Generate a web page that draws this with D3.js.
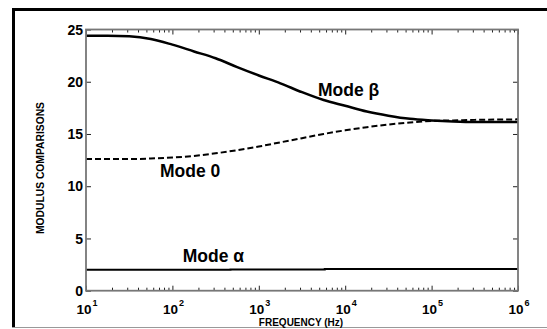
<!DOCTYPE html>
<html>
<head>
<meta charset="utf-8">
<script src="https://cdn.jsdelivr.net/npm/d3@7"></script>
<style>
  html, body { margin: 0; padding: 0; background: #fff; }
  svg { display: block; font-family: "Liberation Sans", Arial, sans-serif; }
</style>
</head>
<body>
<svg id="chart" width="547" height="329"></svg>
<script>
// Frequency sweep (Hz) and modulus values for the three modes
const betaFreq = [1e1, 10**1.25, 10**1.5, 10**1.75, 1e2, 10**2.25, 10**2.5, 10**2.75, 1e3, 10**3.25, 10**3.5, 10**3.75, 1e4, 10**4.25, 10**4.5, 10**4.75, 1e5, 10**5.25, 10**5.5, 1e6];
const betaValues = [24.4, 24.4, 24.35, 24.1, 23.55, 22.9, 22.25, 21.4, 20.6, 19.85, 19.0, 18.25, 17.7, 17.15, 16.75, 16.45, 16.3, 16.2, 16.15, 16.15];

const zeroFreq = [1e1, 10**1.5, 10**1.75, 1e2, 10**2.25, 10**2.5, 10**2.75, 1e3, 10**3.25, 10**3.5, 10**3.75, 1e4, 10**4.25, 10**4.5, 10**4.75, 1e5, 10**5.25, 10**5.5, 1e6];
const zeroValues = [12.6, 12.6, 12.65, 12.75, 12.9, 13.15, 13.45, 13.8, 14.2, 14.6, 15.0, 15.35, 15.65, 15.9, 16.1, 16.25, 16.3, 16.35, 16.4];

const alphaFreq = [1e1, 470, 470, 5800, 5800, 1e6];
const alphaValues = [2.0, 2.0, 2.04, 2.04, 2.08, 2.08];

// Axis ticks
const xTickExponents = [1, 2, 3, 4, 5, 6];
const yTicks = [0, 5, 10, 15, 20, 25];

// Curve labels: [text, frequency, value]
const modeLabels = [
  ["Mode β", 10**3.685, 18.6],
  ["Mode 0", 10**1.856, 10.9],
  ["Mode α", 10**2.12, 2.7]
];

const svg = d3.select("#chart");
const W = 547, H = 329;
const plot = { left: 86, right: 518, top: 29.5, bottom: 290.7 };

// Outer frame
svg.append("line").attr("x1", 12).attr("x2", W).attr("y1", 9.5).attr("y2", 9.5)
  .attr("stroke", "#000").attr("stroke-width", 3);
svg.append("line").attr("x1", 13.5).attr("x2", 13.5).attr("y1", 8).attr("y2", 328)
  .attr("stroke", "#000").attr("stroke-width", 3);
svg.append("line").attr("x1", 12).attr("x2", W).attr("y1", 327.5).attr("y2", 327.5)
  .attr("stroke", "#999").attr("stroke-width", 1);

const x = d3.scaleLog().domain([1e1, 1e6]).range([plot.left, plot.right]);
const y = d3.scaleLinear().domain([0, 25]).range([plot.bottom, plot.top]);

// Minor and major ticks along the log axis
const minorTicks = [];
for (let e = 1; e < 6; e++) for (let m = 2; m <= 9; m++) minorTicks.push(m * 10 ** e);
const majorTicks = xTickExponents.map(e => 10 ** e);

const g = svg.append("g");

const axisBottom = d3.axisBottom(x).tickValues(majorTicks).tickSize(-5).tickFormat("");
const axisTop = d3.axisTop(x).tickValues(majorTicks).tickSize(-5).tickFormat("");
const minorBottom = d3.axisBottom(x).tickValues(minorTicks).tickSize(-3).tickFormat("");
const minorTop = d3.axisTop(x).tickValues(minorTicks).tickSize(-3).tickFormat("");
const axisLeft = d3.axisLeft(y).tickValues(yTicks).tickSize(-5).tickFormat("");
const axisRight = d3.axisRight(y).tickValues(yTicks).tickSize(-5).tickFormat("");

function styleAxis(sel) {
  sel.select(".domain").remove();
  sel.selectAll(".tick line").attr("stroke", "#222").attr("stroke-width", 1);
}
g.append("g").attr("transform", `translate(0,${plot.bottom})`).call(axisBottom).call(styleAxis);
g.append("g").attr("transform", `translate(0,${plot.bottom})`).call(minorBottom).call(styleAxis);
g.append("g").attr("transform", `translate(0,${plot.top})`).call(axisTop).call(styleAxis);
g.append("g").attr("transform", `translate(0,${plot.top})`).call(minorTop).call(styleAxis);
g.append("g").attr("transform", `translate(${plot.left},0)`).call(axisLeft).call(styleAxis);
g.append("g").attr("transform", `translate(${plot.right},0)`).call(axisRight).call(styleAxis);

// Data curves
const line = d3.line().x(d => x(d[0])).y(d => y(d[1])).curve(d3.curveMonotoneX);
const lineStep = d3.line().x(d => x(d[0])).y(d => y(d[1]));

g.append("path").datum(d3.zip(alphaFreq, alphaValues))
  .attr("d", lineStep).attr("fill", "none").attr("stroke", "#000").attr("stroke-width", 2);
g.append("path").datum(d3.zip(zeroFreq, zeroValues))
  .attr("d", line).attr("fill", "none").attr("stroke", "#000").attr("stroke-width", 2)
  .attr("stroke-dasharray", "6,3");
g.append("path").datum(d3.zip(betaFreq, betaValues))
  .attr("d", line).attr("fill", "none").attr("stroke", "#000").attr("stroke-width", 2.5);

// Plot box
g.append("rect").attr("x", plot.left).attr("y", plot.top)
  .attr("width", plot.right - plot.left).attr("height", plot.bottom - plot.top)
  .attr("fill", "none").attr("stroke", "#777").attr("stroke-width", 1.8);

// Y tick labels
g.selectAll(".ylab").data(yTicks).join("text")
  .attr("x", plot.left - 3).attr("y", d => y(d)).attr("dy", "0.36em")
  .attr("text-anchor", "end").attr("font-size", 14).attr("font-weight", "bold")
  .text(d => d);

// X tick labels as powers of ten
const xl = g.selectAll(".xlab").data(xTickExponents).join("text")
  .attr("x", d => x(10 ** d) + 1).attr("y", plot.bottom + 23.5)
  .attr("text-anchor", "middle").attr("font-size", 13.5).attr("font-weight", "bold");
xl.append("tspan").text("10");
xl.append("tspan").attr("dx", 1).attr("dy", -8.5).attr("font-size", 9).text(d => d);

// Axis titles
svg.append("text").attr("x", 301).attr("y", 326).attr("text-anchor", "middle")
  .attr("font-size", 10).attr("font-weight", "bold").text("FREQUENCY (Hz)");
svg.append("text").attr("transform", "translate(44,168) rotate(-90)")
  .attr("text-anchor", "middle").attr("font-size", 10.3).attr("font-weight", "bold")
  .text("MODULUS COMPARISONS");

// Mode labels
g.selectAll(".mode").data(modeLabels).join("text")
  .attr("x", d => x(d[1])).attr("y", d => y(d[2]))
  .attr("font-size", 17.5).attr("font-weight", "bold")
  .text(d => d[0]);
</script>
</body>
</html>
